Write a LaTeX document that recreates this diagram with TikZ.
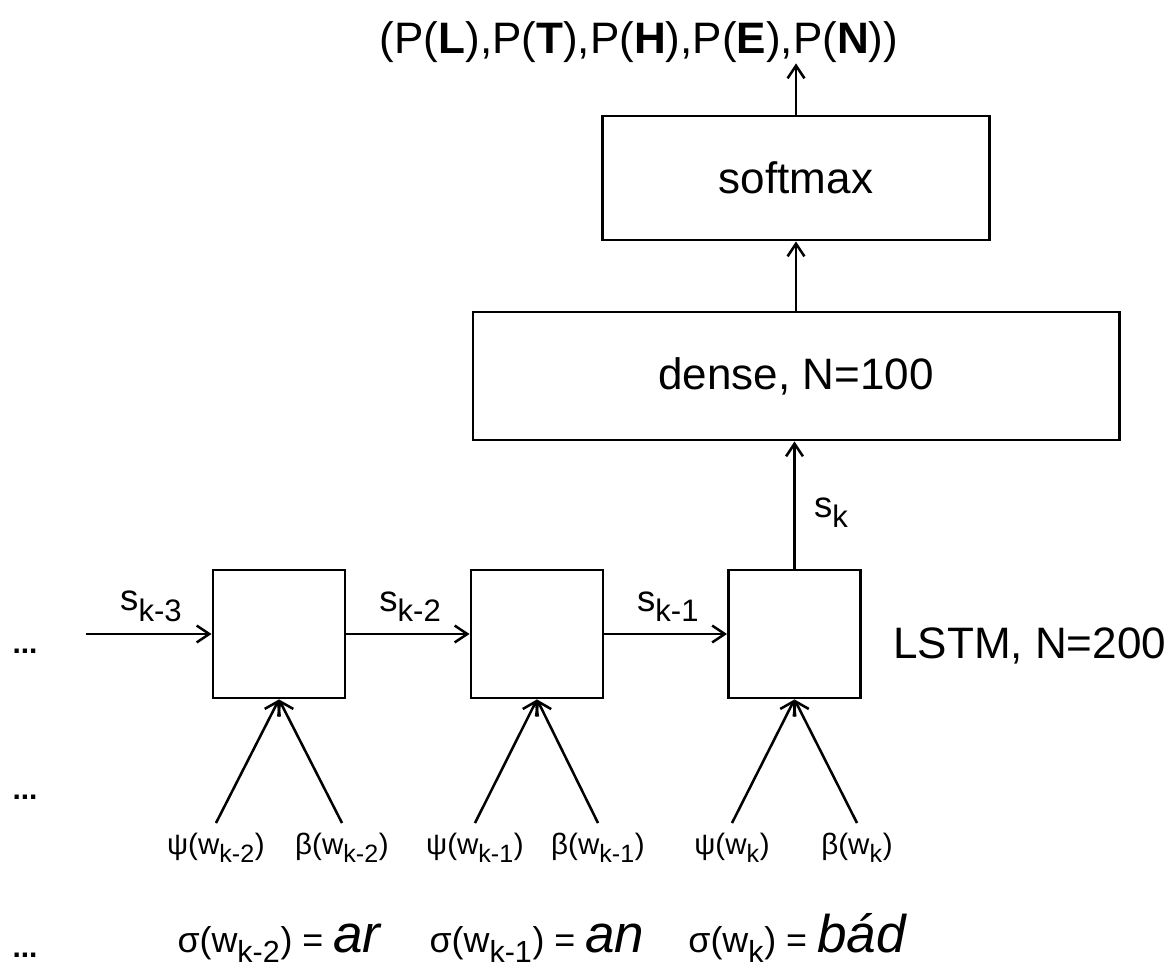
\documentclass[tikz,border=0pt]{standalone}
\usepackage{fontspec}
\setmainfont{Liberation Sans}
\usetikzlibrary{arrows.meta,positioning}
\def\defaultscriptratio{.85}

\begin{document}
\begin{tikzpicture}[
		x=0.025cm, y=-0.025cm,
		retangulos/.style={
			draw,
			rectangle,
			align=center,
			line width = 2pt,
			font=\fontsize{31.3}{36}\selectfont
		},
		quadrados/.style={
			draw,
			rectangle,
			minimum width=3.3cm,
			minimum height=3.2cm,
			line width = 2pt
		},
		seta/.style={-{Straight Barb[length=9pt,width=12pt]}, line width=1.8pt},
		estado/.style={font=\fontsize{26}{30}\selectfont, inner sep=1pt},
		rotulo/.style={font=\fontsize{21}{25}\selectfont, inner sep=1pt},
		palavra/.style={font=\fontsize{25.5}{30}\selectfont, anchor=base, inner sep=0pt},
		pontos/.style={font=\fontsize{21.3}{26}\selectfont\bfseries, anchor=base, inner sep=0pt}
		]
		
		\useasboundingbox (0,0) rectangle (1175,971);
		
		\node[anchor=base, inner sep=0pt, font=\fontsize{31.3}{36}\selectfont] (saida) at (639,54) {(P(\textbf{L}),P(\textbf{T}),P(\textbf{H}),P(\textbf{E}),P(\textbf{N}))};
		
		\node[retangulos, minimum width=9.675cm, minimum height=3.1cm] (softmax) at (796,178) {softmax};
		\node[retangulos, minimum width=16.15cm, minimum height=3.2cm] (dense) at (796,376) {dense, N=100};
		
		\node[quadrados] (lstm1) at (279,634) {};
		\node[quadrados] (lstm2) at (537,634) {};
		\node[quadrados] (lstm3) at (794.5,634) {};
		\node[anchor=base west, inner sep=0pt, font=\fontsize{31.3}{36}\selectfont] (lstmtxt) at (893,658) {LSTM, N=200};
		
		\node[pontos] (pontos1) at (25,653) {...};
		\node[pontos] (pontos2) at (25,799) {...};
		\node[pontos] (pontos3) at (25,957) {...};
		
		\coordinate (entrada) at (86,634);
		\coordinate (psi1) at (216,823);
		\coordinate (beta1) at (342,823);
		\coordinate (psi2) at (475,823);
		\coordinate (beta2) at (598,823);
		\coordinate (psi3) at (732,823);
		\coordinate (beta3) at (857,823);
		
		\node[rotulo, below=6pt of psi1] (lpsi1) {ψ(w\textsubscript{k-2})};
		\node[rotulo, below=6pt of beta1] (lbeta1) {β(w\textsubscript{k-2})};
		\node[rotulo, below=6pt of psi2] (lpsi2) {ψ(w\textsubscript{k-1})};
		\node[rotulo, below=6pt of beta2] (lbeta2) {β(w\textsubscript{k-1})};
		\node[rotulo, below=6pt of psi3] (lpsi3) {ψ(w\textsubscript{k})};
		\node[rotulo, below=6pt of beta3] (lbeta3) {β(w\textsubscript{k})};
		
		\node[palavra] (sigma1) at (279,952) {σ(w\textsubscript{k-2}) = {\fontsize{37.7}{40}\selectfont\itshape ar}};
		\node[palavra] (sigma2) at (537,952) {σ(w\textsubscript{k-1}) = {\fontsize{37.7}{40}\selectfont\itshape an}};
		\node[palavra] (sigma3) at (797,952) {σ(w\textsubscript{k}) = {\fontsize{37.7}{40}\selectfont\itshape bád}};
		
		%Linhas
		\draw[seta] (softmax.north) -- (softmax.north |- saida.south);
		\draw[seta] (dense.north) -- (softmax.south);
		\draw[seta] (lstm3.north) -- node[estado, right=12pt, pos=0.44] {s\textsubscript{k}} (lstm3.north |- dense.south);
		
		\draw[seta] (entrada) -- node[estado, above=7pt, pos=0.52] {s\textsubscript{k-3}} (lstm1.west);
		\draw[seta] (lstm1.east) -- node[estado, above=7pt, pos=0.52] {s\textsubscript{k-2}} (lstm2.west);
		\draw[seta] (lstm2.east) -- node[estado, above=7pt, pos=0.52] {s\textsubscript{k-1}} (lstm3.west);
		
		\draw[seta] (psi1) -- (lstm1.south);
		\draw[seta] (beta1) -- (lstm1.south);
		\draw[seta] (psi2) -- (lstm2.south);
		\draw[seta] (beta2) -- (lstm2.south);
		\draw[seta] (psi3) -- (lstm3.south);
		\draw[seta] (beta3) -- (lstm3.south);
		
	\end{tikzpicture}
\end{document}
